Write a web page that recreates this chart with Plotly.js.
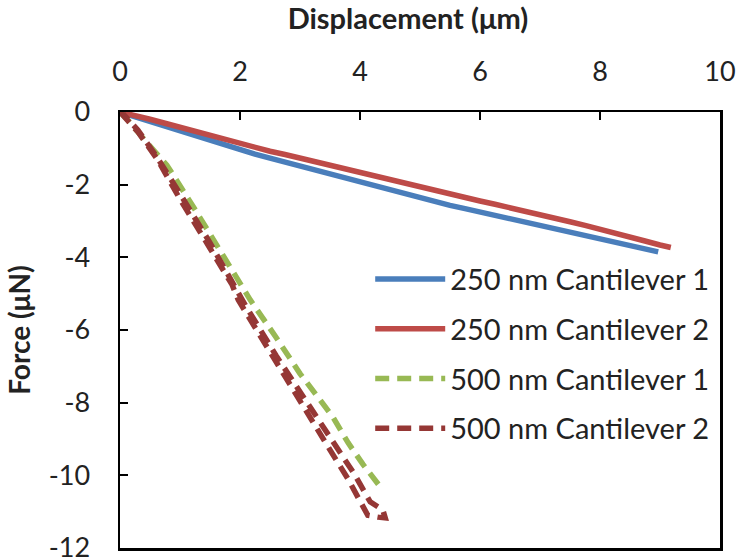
<!DOCTYPE html>
<html>
<head>
<meta charset="utf-8">
<script src="https://cdn.plot.ly/plotly-3.0.1.min.js"></script>
<style>html,body{margin:0;padding:0;background:#fff;}#chart{width:743px;height:560px;}</style>
</head>
<body>
<div id="chart"></div>
<script>
// Series names
var seriesNames = ["250 nm Cantilever 1", "250 nm Cantilever 2", "500 nm Cantilever 1", "500 nm Cantilever 2"];

// 250 nm Cantilever 1 (displacement µm, force µN)
var c250_1_x = [0, 0.25, 0.5, 0.75, 1.0, 1.25, 1.5, 1.75, 2.0, 2.25, 2.5, 2.75, 3.0, 3.25, 3.5, 3.75, 4.0, 4.25, 4.5, 4.75, 5.0, 5.25, 5.5, 5.75, 6.0, 6.25, 6.5, 6.75, 7.0, 7.25, 7.5, 7.75, 8.0, 8.25, 8.5, 8.75, 8.97];
var c250_1_y = [0, -0.13, -0.25, -0.38, -0.5, -0.64, -0.78, -0.92, -1.05, -1.16, -1.27, -1.38, -1.49, -1.6, -1.71, -1.83, -1.94, -2.05, -2.16, -2.27, -2.38, -2.48, -2.57, -2.66, -2.75, -2.84, -2.93, -3.02, -3.11, -3.2, -3.29, -3.38, -3.47, -3.56, -3.66, -3.75, -3.85];

// 250 nm Cantilever 2
var c250_2_x = [0, 0.25, 0.5, 0.75, 1.0, 1.25, 1.5, 1.75, 2.0, 2.25, 2.5, 2.75, 3.0, 3.25, 3.5, 3.75, 4.0, 4.25, 4.5, 4.75, 5.0, 5.25, 5.5, 5.75, 6.0, 6.25, 6.5, 6.75, 7.0, 7.25, 7.5, 7.75, 8.0, 8.25, 8.5, 8.75, 9.0, 9.18];
var c250_2_y = [0, -0.09, -0.2, -0.31, -0.42, -0.54, -0.65, -0.77, -0.88, -0.98, -1.08, -1.17, -1.27, -1.36, -1.45, -1.56, -1.66, -1.75, -1.85, -1.97, -2.08, -2.18, -2.27, -2.36, -2.45, -2.54, -2.63, -2.72, -2.82, -2.92, -3.02, -3.12, -3.22, -3.33, -3.44, -3.55, -3.66, -3.73];

// 500 nm Cantilever 1
var c500_1_x = [0, 0.13, 0.4, 0.78, 1.2, 1.6, 2.0, 2.17, 2.6, 3.0, 3.3, 3.55, 3.8, 4.05, 4.33];
var c500_1_y = [0, -0.22, -0.75, -1.46, -2.55, -3.65, -4.76, -5.17, -6.2, -7.2, -7.85, -8.4, -9.1, -9.7, -10.3];

// 500 nm Cantilever 2 (loading then unloading)
var c500_2_x = [0, 0.1, 0.3, 0.63, 1.0, 1.5, 1.87, 1.97, 2.5, 2.9, 3.17, 3.5, 3.8, 3.97, 4.13, 4.3, 4.42, 4.38, 4.17, 3.9, 3.5, 3.1, 2.6, 2.1, 1.5, 1.0, 0.6, 0.3, 0.05];
var c500_2_y = [0, -0.2, -0.55, -1.32, -2.4, -3.75, -4.76, -5.17, -6.6, -7.7, -8.48, -9.3, -10.1, -10.6, -11.1, -11.15, -11.17, -10.95, -10.73, -9.95, -8.95, -7.95, -6.7, -5.35, -3.6, -2.25, -1.2, -0.5, -0.05];

// Axis ticks
var xTickVals = [0, 2, 4, 6, 8, 10];
var xTickText = ["0", "2", "4", "6", "8", "10"];
var yTickVals = [0, -2, -4, -6, -8, -10, -12];
var yTickText = ["0", "-2", "-4", "-6", "-8", "-10", "-12"];

var FONT = "Lato, 'Open Sans', sans-serif";

var traces = [
  {x: c250_1_x, y: c250_1_y, name: seriesNames[0], legendgroup: "a", mode: "lines",
   line: {color: "#4a7ebb", width: 5.5}},
  {x: c250_2_x, y: c250_2_y, name: seriesNames[1], legendgroup: "b", mode: "lines",
   line: {color: "#be4b48", width: 5.5}},
  {x: c500_1_x, y: c500_1_y, name: seriesNames[2], legendgroup: "c", mode: "lines",
   line: {color: "#98b954", width: 5.5, dash: "14px,8px"}},
  {x: c500_2_x, y: c500_2_y, name: seriesNames[3], legendgroup: "d", mode: "lines",
   line: {color: "#953735", width: 5.5, dash: "14px,8px"}}
];

var layout = {
  width: 743, height: 560,
  margin: {l: 120, r: 23, t: 112, b: 12},
  paper_bgcolor: "#ffffff", plot_bgcolor: "#ffffff",
  font: {family: FONT, color: "#222222", size: 26},
  title: {text: "Displacement (μm)", font: {family: FONT, size: 29, color: "#222", weight: "bold"},
    xref: "container", x: 0.549, xanchor: "center", yref: "container", y: 0.966, yanchor: "middle"},
  showlegend: true,
  legend: {x: 0.417, xanchor: "left", y: 0.675, yanchor: "top",
    font: {family: FONT, size: 29, color: "#222222"},
    bgcolor: "rgba(0,0,0,0)", itemwidth: 70, tracegroupgap: 9},
  xaxis: {
    side: "top", range: [0, 10], tickvals: xTickVals, ticktext: xTickText,
    ticks: "inside", ticklen: 8, tickwidth: 2, tickcolor: "#000",
    showline: true, linecolor: "#000", linewidth: 2.5, mirror: true,
    showgrid: false, zeroline: false, ticklabelstandoff: 18,
    tickfont: {family: FONT, size: 27, color: "#222"}
  },
  yaxis: {
    range: [-12, 0], tickvals: yTickVals, ticktext: yTickText,
    ticks: "inside", ticklen: 8, tickwidth: 2, tickcolor: "#000",
    showline: true, linecolor: "#000", linewidth: 2.5, mirror: true,
    showgrid: false, zeroline: false, ticklabelstandoff: 22, ticklabeloverflow: "allow",
    tickfont: {family: FONT, size: 27, color: "#222"},
    title: {text: "Force (μN)", font: {family: FONT, size: 28, color: "#222", weight: "bold"}, standoff: 10}
  }
};

Plotly.newPlot("chart", traces, layout, {displayModeBar: false, staticPlot: true});
</script>
</body>
</html>
